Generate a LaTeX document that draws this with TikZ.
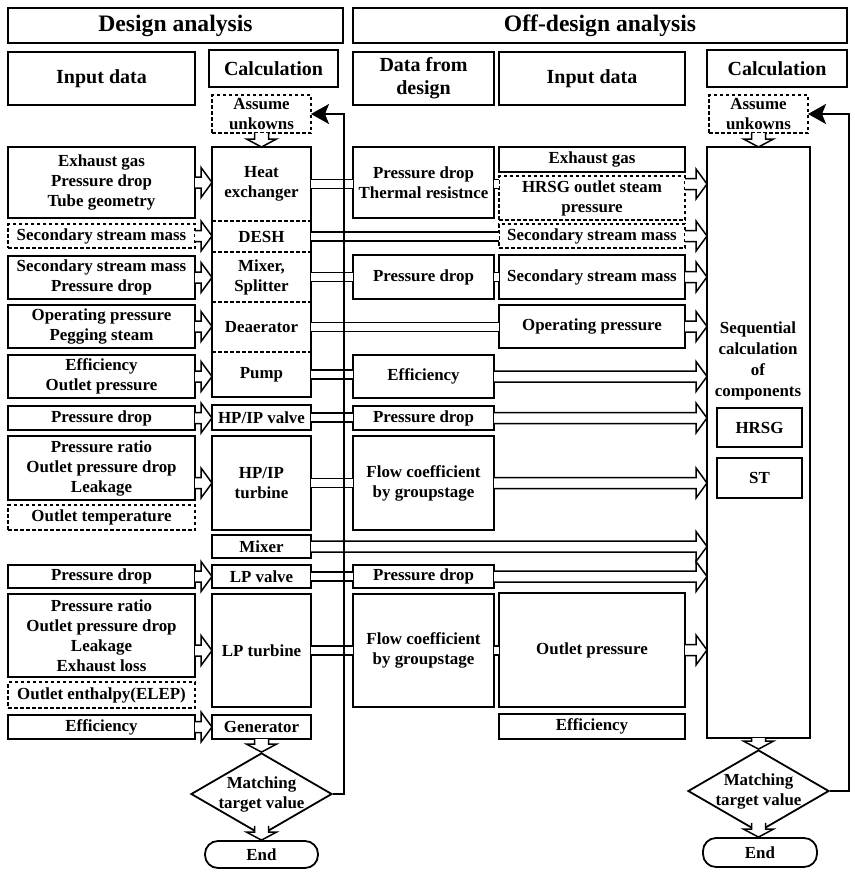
\documentclass[tikz,border=0pt]{standalone}
\usepackage{fontspec}
\setmainfont{Liberation Serif}
\usetikzlibrary{shapes.geometric,arrows.meta,positioning,calc}
\newcommand{\fbody}{\bfseries\fontsize{16.9}{20}\selectfont}
% hollow block arrows: y (or x) taken from the first point, tip on the second
\newcommand{\harr}[2]{\draw[blk] let \p1=(#1), \p2=(#2) in
  (\x1,\y1+5.5pt) -- (\x2-11pt,\y1+5.5pt) -- (\x2-11pt,\y1+15pt) -- (\x2,\y1)
  -- (\x2-11pt,\y1-15pt) -- (\x2-11pt,\y1-5.5pt) -- (\x1,\y1-5.5pt);}
\newcommand{\varr}[2]{\draw[blk] let \p1=(#1), \p2=(#2) in
  (\x1-7pt,\y1) -- (\x1-7pt,\y2+8pt) -- (\x1-15pt,\y2+8pt) -- (\x1,\y2)
  -- (\x1+15pt,\y2+8pt) -- (\x1+7pt,\y2+8pt) -- (\x1+7pt,\y1);}
\tikzset{
  >=Stealth,
  box/.style={draw,line width=1.8pt,anchor=north west,outer sep=0pt,inner sep=1pt,align=center,font=\fbody},
  dbox/.style={box,dash pattern=on 3.5pt off 2.5pt},
  sec/.style={box,draw=none},
  hdr/.style={box,font=\bfseries\fontsize{20}{23}\selectfont},
  ttl/.style={box,font=\bfseries\fontsize{23.6}{28}\selectfont},
  dec/.style={draw,diamond,line width=1.8pt,minimum width=141pt,minimum height=82pt,inner sep=0pt},
  txt/.style={align=center,inner sep=0pt,font=\fbody},
  term/.style={draw,rounded corners=13pt,line width=1.8pt,minimum width=113pt,minimum height=27pt,inner sep=0pt,font=\fbody},
  pipe/.style={double,double distance=7.5pt,line width=1.4pt},
  blk/.style={draw,fill=white,line width=1.5pt,line join=miter},
  fb/.style={line width=1.8pt,-{Stealth[length=18pt,width=20pt,inset=4pt]}}
}
\begin{document}
\begin{tikzpicture}[x=1pt,y=-1pt]
\useasboundingbox (0,0) rectangle (854,878);
% headers
\node[ttl,minimum width=335pt,minimum height=35pt](des)at(8,8){Design analysis};
\node[ttl,minimum width=494pt,minimum height=35pt](off)at(353,8){Off-design analysis};
\node[hdr,minimum width=187pt,minimum height=53pt](hin1)at(8,52){Input data};
\node[hdr,minimum width=129pt,minimum height=37pt](hcal1)at(209,50){Calculation};
\node[hdr,minimum width=141pt,minimum height=53pt](hdat)at(353,52){Data from\\design};
\node[hdr,minimum width=186pt,minimum height=53pt](hin2)at(499,52){Input data};
\node[hdr,minimum width=140pt,minimum height=37pt](hcal2)at(707,50){Calculation};
\node[dbox,minimum width=99pt,minimum height=38pt](asm1)at(212,95){Assume\\unkowns};
\node[dbox,minimum width=99pt,minimum height=38pt](asm2)at(709,95){Assume\\unkowns};
% design: calculation column
\node[sec,minimum width=99pt,minimum height=74pt](hx)at(212,147){Heat\\exchanger};
\node[sec,minimum width=99pt,minimum height=31pt](desh)at(212,221){DESH};
\node[sec,minimum width=99pt,minimum height=50pt](mix)at(212,252){Mixer,\\Splitter};
\node[sec,minimum width=99pt,minimum height=50pt](dea)at(212,302){Deaerator};
\node[sec,minimum width=99pt,minimum height=45pt](pump)at(212,352){Pump};
\draw[line width=1.8pt](hx.north west)rectangle(pump.south east);
\foreach \s in {desh,mix,dea,pump}
  \draw[line width=1.5pt,dash pattern=on 3.5pt off 2.5pt](\s.north west)--(\s.north east);
\node[box,minimum width=99pt,minimum height=25pt](hpv)at(212,405){HP/IP valve};
\node[box,minimum width=99pt,minimum height=94pt](hpt)at(212,436){HP/IP\\turbine};
\node[box,minimum width=99pt,minimum height=23pt](mxr)at(212,535){Mixer};
\node[box,minimum width=99pt,minimum height=23pt](lpv)at(212,565){LP valve};
\node[box,minimum width=99pt,minimum height=113pt](lpt)at(212,594){LP turbine};
\node[box,minimum width=99pt,minimum height=24pt](gen)at(212,715){Generator};
\node[dec](match1)at(261.5,794){};
\node[txt](mtxt1)at(match1){Matching\\target value};
\node[term](end1)at(261.5,854.5){End};
% design: input data
\node[box,minimum width=187pt,minimum height=71pt](in1)at(8,147){Exhaust gas\\Pressure drop\\Tube geometry};
\node[dbox,minimum width=187pt,minimum height=24pt](in2)at(8,224){Secondary stream mass};
\node[box,minimum width=187pt,minimum height=43pt](in3)at(8,256){Secondary stream mass\\Pressure drop};
\node[box,minimum width=187pt,minimum height=43pt](in4)at(8,305){Operating pressure\\Pegging steam};
\node[box,minimum width=187pt,minimum height=43pt](in5)at(8,355){Efficiency\\Outlet pressure};
\node[box,minimum width=187pt,minimum height=24pt](in6)at(8,406){Pressure drop};
\node[box,minimum width=187pt,minimum height=64pt](in7)at(8,436){Pressure ratio\\Outlet pressure drop\\Leakage};
\node[dbox,minimum width=187pt,minimum height=25pt](in8)at(8,505){Outlet temperature};
\node[box,minimum width=187pt,minimum height=23pt](in9)at(8,565){Pressure drop};
\node[box,minimum width=187pt,minimum height=83pt](in10)at(8,594){Pressure ratio\\Outlet pressure drop\\Leakage\\Exhaust loss};
\node[dbox,minimum width=187pt,minimum height=26pt](in11)at(8,682){Outlet enthalpy(ELEP)};
\node[box,minimum width=187pt,minimum height=24pt](in12)at(8,715){Efficiency};
% off-design: data from design
\node[box,minimum width=141pt,minimum height=71pt](dd1)at(353,147){Pressure drop\\Thermal resistnce};
\node[box,minimum width=141pt,minimum height=44pt](dd2)at(353,255){Pressure drop};
\node[box,minimum width=141pt,minimum height=43pt](dd3)at(353,355){Efficiency};
\node[box,minimum width=141pt,minimum height=24pt](dd4)at(353,406){Pressure drop};
\node[box,minimum width=141pt,minimum height=94pt](dd5)at(353,436){Flow coefficient\\by groupstage};
\node[box,minimum width=141pt,minimum height=23pt](dd6)at(353,565){Pressure drop};
\node[box,minimum width=141pt,minimum height=113pt](dd7)at(353,594){Flow coefficient\\by groupstage};
% off-design: input data
\node[box,minimum width=186pt,minimum height=25pt](oi1)at(499,147){Exhaust gas};
\node[dbox,minimum width=186pt,minimum height=44pt](oi2)at(499,176){HRSG outlet steam\\pressure};
\node[dbox,minimum width=186pt,minimum height=24pt](oi3)at(499,224){Secondary stream mass};
\node[box,minimum width=186pt,minimum height=44pt](oi4)at(499,255){Secondary stream mass};
\node[box,minimum width=186pt,minimum height=43pt](oi5)at(499,305){Operating pressure};
\node[box,minimum width=186pt,minimum height=114pt](oi6)at(499,593){Outlet pressure};
\node[box,minimum width=186pt,minimum height=25pt](oi7)at(499,714){Efficiency};
% off-design: calculation
\node[box,minimum width=103pt,minimum height=591pt](offcalc)at(707,147){};
\node[txt,font=\bfseries\fontsize{16.9}{21}\selectfont](seq)at(758,361){Sequential\\calculation\\of\\components};
\node[box,minimum width=85pt,minimum height=39pt](hrsg)at(717,408){HRSG};
\node[box,minimum width=85pt,minimum height=40pt](st)at(717,458){ST};
\node[dec](match2)at(758.5,791){};
\node[txt](mtxt2)at(match2){Matching\\target value};
\node[term,minimum width=114pt,minimum height=29pt](end2)at(760,852.5){End};
% data links
\draw[pipe](hx.east)--(dd1.west |- hx.east);
\draw[pipe](dd1.east |- hx.east)--(oi2.west |- hx.east);
\draw[pipe](desh.east)--(oi3.west |- desh.east);
\draw[pipe](mix.east)--(dd2.west |- mix.east);
\draw[pipe](dd2.east |- mix.east)--(oi4.west |- mix.east);
\draw[pipe](dea.east)--(oi5.west |- dea.east);
\draw[pipe](pump.east)--(dd3.west |- pump.east);
\draw[pipe](hpv.east)--(dd4.west |- hpv.east);
\draw[pipe](hpt.east)--(dd5.west |- hpt.east);
\draw[pipe](lpv.east)--(dd6.west |- lpv.east);
\draw[pipe](lpt.east)--(dd7.west |- lpt.east);
\draw[pipe](dd7.east |- lpt.east)--(oi6.west |- lpt.east);
% block arrows, design
\harr{in1.east}{hx.west}
\harr{in2.east}{desh.west}
\harr{in3.east}{mix.west}
\harr{in4.east}{dea.west}
\harr{in5.east}{pump.west}
\harr{in6.east}{hpv.west}
\harr{in7.east |- hpt.west}{hpt.west}
\harr{in9.east}{lpv.west}
\harr{in10.east |- lpt.west}{lpt.west}
\harr{in12.east}{gen.west}
% block arrows, off-design
\harr{oi2.east |- hx.east}{offcalc.west}
\harr{oi3.east}{offcalc.west}
\harr{oi4.east}{offcalc.west}
\harr{oi5.east}{offcalc.west}
\harr{dd3.east}{offcalc.west}
\harr{dd4.east}{offcalc.west}
\harr{dd5.east}{offcalc.west}
\harr{mxr.east}{offcalc.west}
\harr{dd6.east}{offcalc.west}
\harr{oi6.east}{offcalc.west}
\varr{asm1.south}{hx.north}
\varr{gen.south}{match1.north}
\varr{$(match1.south)+(0,-10)$}{end1.north}
\varr{asm2.south}{offcalc.north}
\varr{offcalc.south}{match2.north}
\varr{$(match2.south)+(0,-10)$}{end2.north}
% iteration loops
\draw[fb](match1.east)--++(11,0)|-(asm1.east);
\draw[fb](match2.east)--++(19,0)|-(asm2.east);
\end{tikzpicture}
\end{document}
